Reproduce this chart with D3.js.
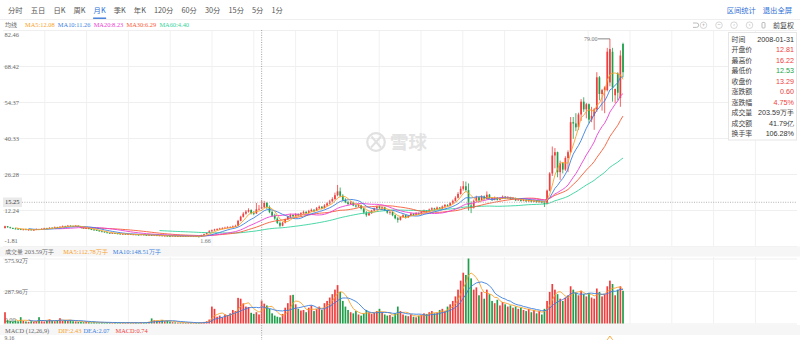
<!DOCTYPE html>
<html><head><meta charset="utf-8">
<script src="https://cdn.jsdelivr.net/npm/d3@7"></script>
<style>
html,body{margin:0;padding:0;background:#fff;}
svg{display:block;}
</style></head><body>
<svg id="chart" width="800" height="340"></svg>
<script>
// ---- chart data (monthly bars, forward adjusted) ----
const periodTabs = ["分时","五日","日K","周K","月K","季K","年K","120分","60分","30分","15分","5分","1分"];
const activeTab = "月K";
const topLinks = ["区间统计","退出全屏"];
const priceTicks = [82.46, 68.42, 54.37, 40.33, 26.28, 12.24, -1.81];
const volumeTicks = [575.92, 287.96, 0];
const macdTopLabel = "9.16";
const firstMonth = [1999, 11];
const focusDate = "2008-01-31";
const focusPrice = 15.25;
const focusAmount = "41.79亿";
const focusTurnover = "106.28%";
const focusPct = "4.75%";
const macdLegend = ["DIF:2.43", "DEA:2.07", "MACD:0.74"];

const open = [5.2,5.9,5.5,5.2,5.0,4.9,4.8,4.6,4.7,4.5,4.6,4.4,4.5,4.8,4.6,4.9,5.1,5.0,5.3,5.2,
5.5,5.4,5.7,5.9,5.8,6.1,6.0,5.9,6.1,5.8,5.4,5.1,5.2,4.8,4.6,4.4,4.3,3.9,3.8,3.5,
3.3,3.1,3.2,3.1,3.0,2.8,2.9,2.7,2.8,2.6,2.7,2.6,2.5,2.7,2.5,2.4,2.5,2.3,2.4,2.2,
2.3,2.1,2.2,2.1,2.0,2.2,1.9,2.1,1.9,2.1,2.0,2.1,1.9,2.0,1.9,1.8,2.4,2.8,3.3,3.9,
4.3,4.6,4.8,5.0,5.1,5.3,5.5,5.6,5.8,6.0,8.0,9.6,10.8,11.6,12.2,11.0,10.9,12.5,12.81,13.29,
15.0,13.4,11.5,10.0,8.9,7.2,6.1,7.3,8.6,9.6,10.3,9.8,10.6,10.1,11.0,11.5,11.0,11.8,12.3,12.0,
12.9,13.5,13.0,14.0,14.8,15.6,16.5,18.0,19.5,17.8,16.2,15.3,14.6,15.2,14.0,13.6,14.1,12.8,11.2,10.2,
11.0,12.0,12.9,13.5,13.0,13.3,12.1,11.2,11.5,10.2,9.0,8.4,9.5,10.2,9.4,10.0,10.8,10.3,11.0,10.6,
11.5,12.0,11.6,12.4,12.9,12.5,13.2,12.8,13.6,14.2,13.9,14.9,15.8,17.0,18.5,20.5,21.5,20.0,14.0,13.2,
15.8,17.2,16.0,17.5,16.6,18.2,16.9,16.3,17.0,16.2,16.8,17.4,16.8,17.2,16.5,16.9,16.0,16.4,15.8,16.2,
15.6,16.1,15.5,15.9,15.3,15.7,15.1,14.6,19.8,26.5,33.5,34.8,27.0,30.5,28.0,32.5,34.8,46.5,46.0,44.5,
49.5,54.5,51.5,53.5,47.5,49.0,51.5,64.0,57.5,59.0,59.0,62.0,74.0,57.0,65.5,56.0,77.0];
const high = [6.1,6.0,5.7,5.4,5.3,5.2,5.0,4.9,5.0,4.8,4.9,4.7,5.0,4.9,5.1,5.3,5.3,5.5,5.5,5.8,
5.7,5.9,6.2,6.1,6.4,6.3,6.2,6.4,6.2,5.9,5.6,5.4,5.3,5.0,4.8,4.6,4.4,4.1,3.9,3.6,
3.4,3.4,3.3,3.3,3.1,3.1,3.0,3.0,2.9,2.9,2.8,2.7,2.9,2.8,2.6,2.7,2.6,2.6,2.5,2.5,
2.4,2.4,2.3,2.2,2.4,2.3,2.2,2.2,2.2,2.2,2.3,2.2,2.2,2.1,2.0,2.6,3.0,3.5,4.4,4.6,
4.9,5.1,5.3,5.5,5.7,5.9,5.9,6.2,6.5,8.4,10.0,11.4,12.2,12.9,12.5,11.8,15.0,14.2,16.22,15.8,
15.4,14.0,12.0,10.8,9.4,7.8,7.6,8.9,10.0,10.8,10.6,11.0,10.9,11.4,12.0,11.8,12.3,12.8,12.6,13.4,
14.0,13.8,14.5,15.3,16.2,17.2,19.0,22.0,21.0,18.4,16.8,15.8,15.7,15.5,14.4,14.6,14.3,13.0,11.8,11.6,
12.3,13.2,13.9,14.0,13.6,13.5,12.4,11.9,11.7,10.5,9.6,9.8,10.6,10.4,10.3,11.2,11.0,11.4,11.3,11.8,
12.4,12.2,12.8,13.3,13.1,13.6,13.4,14.0,14.6,14.5,15.3,16.3,17.6,19.2,21.5,23.5,23.3,22.6,15.6,16.3,
17.8,17.5,18.0,17.9,19.5,18.5,17.2,17.5,17.3,17.2,17.9,17.7,17.6,17.4,17.3,17.1,16.8,16.6,16.6,16.4,
16.5,16.3,16.3,16.1,16.1,15.9,15.6,20.2,27.0,37.0,36.4,35.0,31.5,31.0,33.2,35.5,48.5,48.5,50.0,50.2,
55.5,56.2,54.0,53.8,52.5,52.0,66.0,64.5,59.5,60.5,75.5,79.0,75.5,59.5,66.0,74.5,77.5];
const low = [5.0,5.3,5.0,4.8,4.7,4.6,4.4,4.3,4.4,4.2,4.3,4.2,4.4,4.4,4.5,4.8,4.8,4.9,5.0,5.1,
5.2,5.3,5.6,5.6,5.7,5.8,5.7,5.8,5.6,5.2,4.9,4.9,4.7,4.4,4.2,4.1,3.8,3.6,3.4,3.2,
3.0,3.0,2.9,2.8,2.7,2.7,2.6,2.6,2.5,2.5,2.4,2.3,2.4,2.3,2.2,2.3,2.1,2.2,2.0,2.1,
2.0,2.0,1.9,1.8,1.9,1.8,1.8,1.7,1.8,1.8,1.9,1.8,1.8,1.7,1.66,1.7,2.3,2.7,3.2,3.8,
4.1,4.4,4.5,4.7,4.9,5.1,5.2,5.4,5.6,5.9,7.8,9.3,10.4,11.2,10.5,10.2,10.7,12.3,12.53,13.0,
12.6,11.0,9.6,8.4,6.8,5.5,5.9,7.0,8.3,9.2,9.3,9.6,9.7,9.9,10.7,10.6,10.8,11.5,11.4,11.8,
12.6,12.5,12.8,13.7,14.4,15.2,16.2,17.6,17.2,15.6,14.9,14.2,14.3,13.7,13.2,13.4,12.4,10.6,9.6,9.9,
10.7,11.8,12.4,12.6,12.2,11.8,10.8,10.4,9.8,8.6,7.3,8.1,9.2,8.9,9.1,9.8,9.9,10.1,10.2,10.4,
11.2,11.1,11.4,12.1,12.0,12.3,12.4,12.6,13.3,13.5,13.7,14.6,15.5,16.7,18.2,19.8,19.4,12.0,11.0,12.8,
15.4,15.6,15.8,16.2,16.4,16.6,15.8,16.0,15.9,16.0,16.5,16.5,16.6,16.2,16.3,15.7,15.8,15.5,15.6,15.3,
15.4,15.2,15.3,15.0,15.1,14.8,13.4,14.4,19.5,25.5,28.5,25.0,24.0,26.5,27.5,27.0,34.5,40.0,43.0,43.5,
47.0,50.5,48.0,46.0,46.5,43.5,50.5,55.0,51.0,50.0,58.5,60.5,54.5,54.0,55.0,52.5,64.0];
const close = [5.9,5.5,5.2,5.0,4.9,4.8,4.6,4.7,4.5,4.6,4.4,4.5,4.8,4.6,4.9,5.1,5.0,5.3,5.2,5.5,
5.4,5.7,5.9,5.8,6.1,6.0,5.9,6.1,5.8,5.4,5.1,5.2,4.8,4.6,4.4,4.3,3.9,3.8,3.5,3.3,
3.1,3.2,3.0,3.0,2.8,2.9,2.7,2.8,2.6,2.7,2.6,2.5,2.7,2.5,2.4,2.5,2.3,2.4,2.2,2.3,
2.1,2.2,2.1,2.0,2.2,1.9,2.1,1.9,2.1,2.0,2.1,1.9,2.0,1.9,1.8,2.4,2.8,3.3,3.9,4.3,
4.6,4.8,5.0,5.1,5.3,5.5,5.6,5.8,6.0,8.0,9.6,10.8,11.6,12.2,11.0,10.9,12.5,12.69,13.29,15.0,
13.4,11.5,10.0,8.9,7.2,6.1,7.3,8.6,9.6,10.3,9.8,10.6,10.1,11.0,11.5,11.0,11.8,12.3,12.0,12.9,
13.5,13.0,14.0,14.8,15.6,16.5,18.0,19.5,17.8,16.2,15.3,14.6,15.2,14.0,13.6,14.1,12.8,11.2,10.2,11.0,
12.0,12.9,13.5,13.0,13.3,12.1,11.2,11.5,10.2,9.0,8.4,9.5,10.2,9.4,10.0,10.8,10.3,11.0,10.6,11.5,
12.0,11.6,12.4,12.9,12.5,13.2,12.8,13.6,14.2,13.9,14.9,15.8,17.0,18.5,20.5,21.5,20.0,14.0,13.2,15.8,
17.2,16.0,17.5,16.6,18.2,16.9,16.3,17.0,16.2,16.8,17.4,16.8,17.2,16.5,16.9,16.0,16.4,15.8,16.2,15.6,
16.1,15.5,15.9,15.3,15.7,15.1,14.6,19.8,26.5,33.5,34.8,27.0,30.5,28.0,32.5,34.8,46.5,46.0,44.5,49.5,
54.5,51.5,53.5,47.5,49.0,51.5,64.0,57.5,59.0,60.0,74.0,75.0,60.0,59.5,58.0,72.5,66.0];
// volume in 万手
const volume = [100,30,22,18,25,20,56,24,18,15,20,14,22,56,20,18,25,37,22,20,
28,47,24,30,22,30,20,18,15,14,12,16,12,10,12,9,8,10,7,9,
8,6,9,7,8,6,7,9,6,8,7,6,10,8,12,15,45,28,25,22,
30,20,25,18,12,10,8,9,7,6,8,7,6,5,6,9,14,20,35,150,
130,60,70,55,80,75,90,120,110,227,220,178,150,146.2,95,85,100,80.31,203.59,176,
160,130,90,70,60,55,85,140,180,250,254,170,130,115,120,100,140,160,110,130,
150,120,180,200,230,260,300,340,280,200,150,120,100,90,110,80,70,90,120,100,
85,95,110,130,100,80,70,75,60,90,150,110,80,70,65,80,60,55,70,75,
90,85,100,110,90,95,120,130,110,150,170,200,240,300,380,450,430,575.92,400,300,
320,250,280,220,300,260,200,180,210,160,190,170,150,160,140,150,130,140,120,110,
130,100,120,90,110,80,130,200,280,350,300,260,220,200,230,250,330,300,270,250,
290,260,240,270,230,220,310,280,240,260,330,380,350,250,300,330,290];

// ---- helpers ----
const N = close.length;
const monthLabel = i => {
  const m = firstMonth[1] - 1 + i;
  return `${firstMonth[0] + Math.floor(m / 12)}-${String(m % 12 + 1).padStart(2, "0")}`;
};
const focusIndex = d3.range(N).find(i => monthLabel(i) === focusDate.slice(0, 7));
const movingAvg = (arr, n) => arr.map((_, i) => i < n - 1 ? null : d3.mean(arr.slice(i - n + 1, i + 1)));
const ema = (arr, n) => { const k = 2 / (n + 1); let e = arr[0]; return arr.map(v => (e = e + k * (v - e))); };

const UP = "#f03e3e", DOWN = "#1f9f4a";
const SERIF = "'Liberation Serif','DejaVu Serif',serif";
const SANS = "'Noto Sans CJK SC','Noto Sans',sans-serif";
const maDefs = [
  {n: 5, color: "#f9a12b"}, {n: 10, color: "#3a7fe0"}, {n: 20, color: "#ea3fd2"},
  {n: 30, color: "#f75a36"}, {n: 60, color: "#36d39c"}];

const svg = d3.select("#chart");
const x = d3.scaleLinear().domain([0, N - 1]).range([5, 623]);
const y = d3.scaleLinear().domain([-1.81, 82.46]).range([246, 30]);
const yv = d3.scaleLinear().domain([0, 575.92]).range([323.5, 258.5]);

// ---- top tab bar ----
const tabs = svg.append("g").attr("font-family", SANS).attr("font-size", 7.3);
let tx = 8;
periodTabs.forEach(t => {
  const el = tabs.append("text").attr("x", tx).attr("y", 13.3).text(t)
    .attr("fill", t === activeTab ? "#2f6fd6" : "#555");
  const w = el.node().getComputedTextLength();
  if (t === activeTab) tabs.append("line").attr("x1", tx - 0.5).attr("x2", tx + w + 0.5)
    .attr("y1", 18.2).attr("y2", 18.2).attr("stroke", "#2f6fd6").attr("stroke-width", 1.3);
  tx += w + 8.1;
});
let rx = 792;
topLinks.slice().reverse().forEach(t => {
  const el = tabs.append("text").attr("x", rx).attr("y", 13.3).attr("text-anchor", "end")
    .attr("fill", "#2f6fd6").text(t);
  rx -= el.node().getComputedTextLength() + 7;
});
svg.append("line").attr("x1", 0).attr("x2", 800).attr("y1", 19.5).attr("y2", 19.5)
  .attr("stroke", "#efefef").attr("stroke-width", 1);

// ---- grid ----
const grid = svg.append("g");
d3.range(1, 19).forEach(k => {
  const gx = 3 + k * 41.8;
  grid.append("line").attr("x1", gx).attr("x2", gx).attr("y1", 30).attr("y2", 246).attr("stroke", "#f1f1f1");
  grid.append("line").attr("x1", gx).attr("x2", gx).attr("y1", 257).attr("y2", 323.5).attr("stroke", "#f1f1f1");
});
const gy = svg.append("g").attr("transform", "translate(3,0)")
  .call(d3.axisRight(y).tickValues(priceTicks).tickSize(794).tickPadding(0).tickFormat(d => d.toFixed(2)));
gy.select(".domain").remove();
gy.selectAll(".tick line").attr("stroke", "#efefef");
gy.selectAll(".tick text").attr("x", 1.5).attr("text-anchor", "start")
  .attr("font-family", SERIF).attr("font-size", 6.4).attr("fill", "#666")
  .attr("dy", (d, i) => i === 0 ? "0.95em" : i === priceTicks.length - 1 ? "-0.55em" : "0.32em");

const gv = svg.append("g").attr("transform", "translate(3,0)")
  .call(d3.axisRight(yv).tickValues(volumeTicks).tickSize(794).tickPadding(0)
    .tickFormat(d => d === 0 ? "0.00" : d.toFixed(2) + "万"));
gv.select(".domain").remove();
gv.selectAll(".tick line").attr("stroke", "#efefef");
gv.selectAll(".tick text").attr("x", 1.5).attr("text-anchor", "start")
  .attr("font-family", SERIF).attr("font-size", 6.4).attr("fill", "#666")
  .attr("dy", (d, i) => i === 0 ? "0.7em" : i === volumeTicks.length - 1 ? "-0.35em" : "0.32em");

// ---- watermark ----
const wm = svg.append("g").attr("opacity", 0.9);
wm.append("circle").attr("cx", 376).attr("cy", 142).attr("r", 8.8)
  .attr("fill", "none").attr("stroke", "#dedede").attr("stroke-width", 2.2);
wm.append("path").attr("d", "M371.5,136.5 Q376,142 381,147.5 M381,136.5 Q376,142 371,147.5")
  .attr("fill", "none").attr("stroke", "#dedede").attr("stroke-width", 2);
wm.append("text").attr("x", 390).attr("y", 149).attr("font-family", SANS).attr("font-weight", 700)
  .attr("font-size", 18.5).attr("fill", "#e0e0e0").text("雪球");

// ---- candlesticks ----
const candles = d3.range(N).map(i => ({i, o: open[i], h: high[i], l: low[i], c: close[i], v: volume[i]}));
const col = d => d.c >= d.o ? UP : DOWN;
const cg = svg.append("g");
cg.selectAll("line").data(candles).join("line")
  .attr("x1", d => x(d.i)).attr("x2", d => x(d.i))
  .attr("y1", d => y(d.h)).attr("y2", d => y(d.l))
  .attr("stroke", col).attr("stroke-width", 0.8);
const bw = 1.7;
cg.selectAll("rect").data(candles).join("rect")
  .attr("x", d => x(d.i) - bw / 2).attr("width", bw)
  .attr("y", d => y(Math.max(d.o, d.c)))
  .attr("height", d => Math.max(0.8, Math.abs(y(d.o) - y(d.c))))
  .attr("fill", col);

// moving averages of close
const maLine = d3.line().defined(d => d[1] != null).x(d => x(d[0])).y(d => y(d[1]));
const maSeries = maDefs.map(m => ({...m, vals: movingAvg(close, m.n)}));
maSeries.slice().reverse().forEach(m => {
  svg.append("path").datum(m.vals.map((v, i) => [i, v])).attr("d", maLine)
    .attr("fill", "none").attr("stroke", m.color).attr("stroke-width", 0.9);
});

// max / min markers
const iMax = d3.maxIndex(high), iMin = d3.minIndex(low);
svg.append("line").attr("x1", x(iMax) - 12).attr("x2", x(iMax)).attr("y1", y(high[iMax])).attr("y2", y(high[iMax]))
  .attr("stroke", "#555").attr("stroke-width", 0.7);
svg.append("text").attr("x", x(iMax) - 12.5).attr("y", y(high[iMax])).attr("dy", "0.32em").attr("text-anchor", "end")
  .attr("font-family", SERIF).attr("font-size", 6).attr("fill", "#777").text(high[iMax].toFixed(2));
svg.append("text").attr("x", x(iMin) + 1.5).attr("y", y(low[iMin]) + 5.5)
  .attr("font-family", SERIF).attr("font-size", 6).attr("fill", "#777").text(low[iMin].toFixed(2));

// ---- legend row for price MAs ----
const lg = svg.append("g").attr("font-size", 6.4);
lg.append("text").attr("x", 5).attr("y", 27).attr("font-family", SANS).attr("font-size", 6).attr("fill", "#666").text("均线");
let lx = 25;
maSeries.forEach(m => {
  const el = lg.append("text").attr("x", lx).attr("y", 27).attr("font-family", SERIF).attr("fill", m.color)
    .text(`MA${m.n}:${m.vals[focusIndex].toFixed(2)}`);
  lx += el.node().getComputedTextLength() + 3.2;
});

// right-side tool icons
const ic = svg.append("g").attr("stroke", "#aaa").attr("fill", "none").attr("stroke-width", 0.8);
ic.append("path").attr("d", "M693,23 h3.5 a2.2,2.2 0 0 1 0,4.4 h-3.5");
[[703.5, "+"], [719, "−"], [734, "‹"], [749.5, "›"]].forEach(([cx, s]) => {
  ic.append("circle").attr("cx", cx).attr("cy", 25.2).attr("r", 3.3).attr("stroke", "#ccc");
  svg.append("text").attr("x", cx).attr("y", 25.2).attr("dy", "0.35em").attr("text-anchor", "middle")
    .attr("font-family", SANS).attr("font-size", 5.5).attr("fill", "#999").text(s);
});
ic.append("rect").attr("x", 762).attr("y", 22.5).attr("width", 3).attr("height", 5.5).attr("rx", 0.8);
svg.append("text").attr("x", 794).attr("y", 27.5).attr("text-anchor", "end").attr("font-family", SANS)
  .attr("font-size", 7).attr("fill", "#444").text("前复权");

// ---- volume panel ----
svg.append("rect").attr("x", 0).attr("y", 246.5).attr("width", 800).attr("height", 10).attr("fill", "#f6f6f6");
const vg = svg.append("g");
vg.selectAll("rect").data(candles).join("rect")
  .attr("x", d => x(d.i) - bw / 2).attr("width", bw)
  .attr("y", d => yv(d.v)).attr("height", d => yv(0) - yv(d.v))
  .attr("fill", col);
const volMA = [{n: 5, color: "#f9a12b"}, {n: 10, color: "#3a7fe0"}].map(m => ({...m, vals: movingAvg(volume, m.n)}));
const vLine = d3.line().defined(d => d[1] != null).x(d => x(d[0])).y(d => yv(d[1]));
volMA.forEach(m => svg.append("path").datum(m.vals.map((v, i) => [i, v])).attr("d", vLine)
  .attr("fill", "none").attr("stroke", m.color).attr("stroke-width", 0.9));
const vl = svg.append("g").attr("font-family", SERIF).attr("font-size", 6.4);
let vx = 5;
[[`成交量 ${volume[focusIndex].toFixed(2)}万手`, "#666"],
 [`MA5:${volMA[0].vals[focusIndex].toFixed(2)}万手`, volMA[0].color],
 [`MA10:${volMA[1].vals[focusIndex].toFixed(2)}万手`, volMA[1].color]].forEach(([t, c], k) => {
  const el = vl.append("text").attr("x", vx).attr("y", 253.5).attr("fill", c).text(t);
  vx += el.node().getComputedTextLength() + (k === 0 ? 9 : 5);
});

// ---- MACD panel ----
svg.append("rect").attr("x", 0).attr("y", 325).attr("width", 800).attr("height", 10).attr("fill", "#f6f6f6");
const e12 = ema(close, 12), e26 = ema(close, 26);
const dif = close.map((_, i) => e12[i] - e26[i]);
const dea = ema(dif, 9);
const hist = dif.map((d, i) => 2 * (d - dea[i]));
const ym = d3.scaleLinear().domain([d3.min([...dif, ...dea, ...hist]), d3.max([...dif, ...dea, ...hist])]).range([400, 336]);
const mg = svg.append("g");
mg.selectAll("rect").data(hist).join("rect")
  .attr("x", (d, i) => x(i) - 0.4).attr("width", 0.8)
  .attr("y", d => Math.min(ym(d), ym(0))).attr("height", d => Math.abs(ym(d) - ym(0)))
  .attr("fill", d => d >= 0 ? UP : DOWN);
const mLine = d3.line().x((d, i) => x(i)).y(d => ym(d));
mg.append("path").datum(dif).attr("d", mLine).attr("fill", "none").attr("stroke", "#f9a12b").attr("stroke-width", 0.9);
mg.append("path").datum(dea).attr("d", mLine).attr("fill", "none").attr("stroke", "#3a7fe0").attr("stroke-width", 0.9);
const ml = svg.append("g").attr("font-family", SERIF).attr("font-size", 6.4);
let mx = 5;
[["MACD (12,26,9)", "#666"], [macdLegend[0], "#f9a12b"], [macdLegend[1], "#3a7fe0"], [macdLegend[2], "#f03e3e"]]
  .forEach(([t, c], k) => {
    const el = ml.append("text").attr("x", mx).attr("y", 332.5).attr("fill", c).text(t);
    mx += el.node().getComputedTextLength() + (k === 0 ? 9 : k === 2 ? 6 : 2);
  });
svg.append("text").attr("x", 4.5).attr("y", 339.6).attr("font-family", SERIF).attr("font-size", 5.6)
  .attr("fill", "#666").text(macdTopLabel);

// ---- crosshair ----
const cx = x(focusIndex);
svg.append("line").attr("x1", cx).attr("x2", cx).attr("y1", 30).attr("y2", 340)
  .attr("stroke", "#999").attr("stroke-width", 0.9).attr("stroke-dasharray", "1,1.4");
svg.append("line").attr("x1", 22).attr("x2", 797).attr("y1", y(focusPrice)).attr("y2", y(focusPrice))
  .attr("stroke", "#aaa").attr("stroke-width", 0.9).attr("stroke-dasharray", "1,1.4");
svg.append("rect").attr("x", 3).attr("y", y(focusPrice) - 4.8).attr("width", 19).attr("height", 9.6).attr("fill", "#eaeaea");
svg.append("text").attr("x", 5).attr("y", y(focusPrice)).attr("dy", "0.34em").attr("font-family", SERIF)
  .attr("font-size", 6.4).attr("fill", "#333").text(focusPrice.toFixed(2));

// ---- info panel ----
const prev = close[focusIndex - 1];
const pc = v => v > prev ? UP : v < prev ? "#1aa34a" : "#333";
const rows = [
  ["时间", focusDate, "#333"],
  ["开盘价", open[focusIndex].toFixed(2), pc(open[focusIndex])],
  ["最高价", high[focusIndex].toFixed(2), pc(high[focusIndex])],
  ["最低价", low[focusIndex].toFixed(2), pc(low[focusIndex])],
  ["收盘价", close[focusIndex].toFixed(2), pc(close[focusIndex])],
  ["涨跌额", (close[focusIndex] - prev).toFixed(2), pc(close[focusIndex])],
  ["涨跌幅", focusPct, pc(close[focusIndex])],
  ["成交量", volume[focusIndex].toFixed(2) + "万手", "#333"],
  ["成交额", focusAmount, "#333"],
  ["换手率", focusTurnover, "#333"]];
const ip = svg.append("g");
ip.append("rect").attr("x", 728.5).attr("y", 32.5).attr("width", 68).attr("height", 107.5)
  .attr("fill", "#fff").attr("stroke", "#e6e6e6");
rows.forEach(([k, v, c], r) => {
  const ry = 39.3 + r * 10.5;
  ip.append("text").attr("x", 731.5).attr("y", ry).attr("dy", "0.35em").attr("font-family", SANS)
    .attr("font-size", 6.9).attr("fill", "#444").text(k);
  ip.append("text").attr("x", 794).attr("y", ry).attr("dy", "0.35em").attr("text-anchor", "end")
    .attr("font-family", "'Liberation Sans',Arial,sans-serif").attr("font-size", 7.2).attr("fill", c).text(v);
});
</script>
</body></html>
